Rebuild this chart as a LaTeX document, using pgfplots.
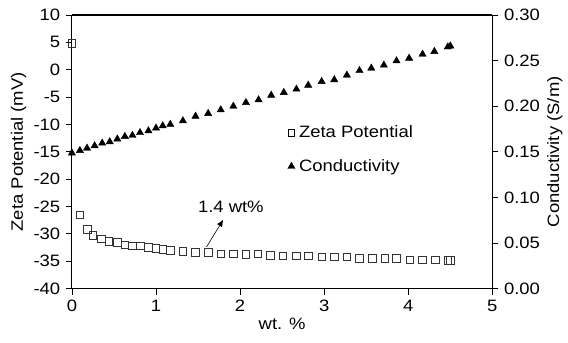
\documentclass[border=0pt]{standalone}
\usepackage{pgfplots}
\pgfplotsset{compat=1.18}
\usepackage{fontspec}
\setmainfont[FakeStretch=1.12]{Liberation Sans}
\usetikzlibrary{arrows.meta}
\pgfplotstableread{
x y
0.00 4.8
0.095 -26.5
0.18 -29.2
0.25 -30.3
0.35 -30.9
0.44 -31.3
0.54 -31.5
0.63 -32.0
0.72 -32.2
0.81 -32.2
0.91 -32.4
1.00 -32.6
1.08 -32.8
1.17 -33.0
1.32 -33.2
1.47 -33.4
1.62 -33.4
1.77 -33.6
1.92 -33.6
2.07 -33.7
2.21 -33.6
2.36 -33.9
2.51 -34.0
2.67 -34.0
2.81 -34.0
2.97 -34.2
3.12 -34.2
3.27 -34.2
3.42 -34.5
3.57 -34.5
3.72 -34.5
3.86 -34.5
4.02 -34.7
4.17 -34.7
4.32 -34.7
4.47 -34.8
4.50 -34.8
}\zeta
\pgfplotstableread{
x y
0.00 0.1486
0.095 0.1514
0.18 0.1540
0.27 0.1566
0.36 0.1595
0.45 0.1610
0.54 0.1640
0.63 0.1668
0.72 0.1680
0.81 0.1710
0.91 0.1730
1.00 0.1760
1.08 0.1785
1.17 0.1800
1.32 0.1840
1.47 0.1890
1.62 0.1920
1.77 0.1960
1.92 0.2000
2.07 0.2040
2.22 0.2070
2.37 0.2120
2.52 0.2150
2.67 0.2187
2.81 0.2230
2.97 0.2270
3.12 0.2290
3.27 0.2340
3.42 0.2390
3.56 0.2417
3.71 0.2450
3.86 0.2497
4.01 0.2526
4.17 0.2570
4.31 0.2600
4.47 0.2650
4.50 0.2660
}\cond
\begin{document}
\fontsize{16.5bp}{19bp}\selectfont
\begin{tikzpicture}
\pgfplotsset{
  every axis/.append style={
    scale only axis, width=421bp, height=274bp,
    xmin=0, xmax=5,
    /pgf/number format/assume math mode=true,
    tick label style={font=\fontsize{16.5bp}{19bp}\selectfont},
    label style={font=\fontsize{16.5bp}{19bp}\selectfont},
    major tick length=6bp,
    tick style={black, line width=0.8pt},
    axis line style={line width=1.1pt},
  }
}
\begin{axis}[
  name=ax,
  axis y line*=left,
  axis x line*=bottom,
  ymin=-40, ymax=10,
  ytick={-40,-35,...,10},
  xtick={0,1,2,3,4,5},
  tick align=outside,
  ylabel={Zeta Potential (mV)},
  xlabel={wt. \%},
  ylabel style={yshift=-4bp},
  xlabel style={yshift=5bp},
  clip=false,
]
\addplot[only marks, mark=square, mark size=3.8bp, mark options={draw=black!80, line width=0.6pt}] table[x=x,y=y]{\zeta};
\draw[line width=0.6pt, -{Latex[length=7bp,width=6bp]}] (axis cs:1.6,-32.4) -- (axis cs:1.8,-27.4);
\node[font=\fontsize{16.5bp}{19bp}\selectfont] at (axis cs:1.89,-25.0) {1.4 wt\%};
\draw[line width=1.1pt] (rel axis cs:0,1) -- (rel axis cs:1,1);
\end{axis}
\begin{axis}[
  axis y line*=right,
  axis x line=none,
  ymin=0, ymax=0.30,
  ytick={0,0.05,...,0.30},
  yticklabel style={/pgf/number format/.cd, fixed, fixed zerofill, precision=2},
  tick align=outside,
  ylabel={Conductivity (S/m)},
  ylabel style={yshift=4bp},
  legend style={at={(rel axis cs:0.513,0.603)}, anchor=north west, draw=none, fill=none,
    inner sep=0pt, row sep=15bp, font=\fontsize{16.5bp}{19bp}\selectfont,
    legend cell align=left,
    nodes={inner xsep=4bp}},
  legend image code/.code={\draw[#1] plot coordinates {(0.25em,0)};},
]
\addlegendimage{only marks, mark=square, mark size=3.3bp, mark options={draw=black, line width=0.5pt}}
\addlegendentry{Zeta Potential}
\addplot[only marks, mark=triangle*, mark size=4.2bp, mark options={fill=black, draw=black}] table[x=x,y=y]{\cond};
\addlegendentry{Conductivity}
\end{axis}
\path ([xshift=-72bp,yshift=15bp]ax.north west) rectangle ([xshift=75bp,yshift=-54bp]ax.south east);
\end{tikzpicture}
\end{document}
